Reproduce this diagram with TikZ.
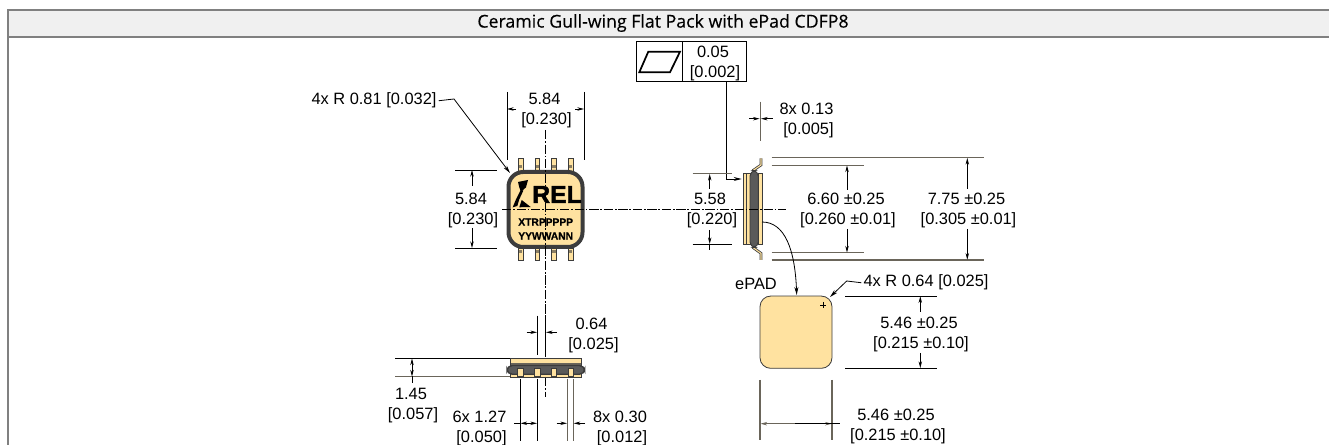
\documentclass[tikz,border=0pt]{standalone}
\usepackage{fontspec}
\setmainfont{Liberation Sans}
\newfontfamily\titlefont[FakeBold=0.25]{Open Sans}
\newfontfamily\logofont[FakeBold=2]{Liberation Sans Bold}
\newfontfamily\markfont[FakeBold=0.6]{Liberation Sans Bold}
\usetikzlibrary{arrows.meta}
\definecolor{frameG}{HTML}{808080}
\definecolor{headG}{HTML}{F0F0F0}
\definecolor{padY}{HTML}{FFE2A0}
\definecolor{bodyD}{HTML}{3C3C3C}
\definecolor{coreD}{HTML}{5A5A5A}
\definecolor{extO}{HTML}{6A655A}
\newcommand{\twol}[2]{#1\hspace*{3pt}\\{}#2}
\tikzset{
  x=0.75pt,y=-0.75pt,
  framel/.style={draw=frameG,line width=1.5pt},
  dimtext/.style={inner sep=0pt,align=center,yshift=-1.6pt,font=\fontsize{12.3}{15}\selectfont},
  oneline/.style={inner sep=0pt,yshift=-1.3pt,font=\fontsize{12.3}{15}\selectfont},
  ext/.style={draw=black,line width=0.6pt},
  exto/.style={draw=extO,line width=1pt},
  leader/.style={draw=black,line width=0.6pt,-{Stealth[length=6pt,width=3pt]}},
  dimarr/.style={draw=black,line width=0.6pt,-{Stealth[length=5pt,width=2.6pt]}},
  center line/.style={draw=black,line width=0.35pt,dash pattern=on 7pt off 1.3pt on 1.3pt off 1.3pt},
  lead/.style={fill=padY,draw=bodyD,line width=0.5pt},
  strip/.style={fill=padY,draw=bodyD,line width=0.5pt},
}
\begin{document}
\begin{tikzpicture}
\useasboundingbox (0,0) rectangle (1329,445);
% frame
\fill[white] (0,0) rectangle (1329,445);
\fill[headG] (8,10) rectangle (1329,37);
\draw[framel] (1329,10) -- (8.3,10) -- (8.3,445);
\draw[framel] (8,37) -- (1329,37);
\node[inner sep=0pt,font=\titlefont\fontsize{13.3}{15}\selectfont] (title) at (663,23) {Ceramic Gull-wing Flat Pack with ePad CDFP8};

% ===== top view
\foreach \x in {520.7,537.3,554,570.7}{
  \draw[lead] (\x-2.2,158.5) rectangle (\x+2.2,171);
  \fill[bodyD!60!padY] (\x-1.6,165) rectangle (\x+1.6,168);
  \draw[lead] (\x-2.2,248) rectangle (\x+2.2,260.5);
  \fill[bodyD!60!padY] (\x-1.6,250) rectangle (\x+1.6,253);
}
\draw[fill=padY,draw=bodyD,line width=3pt,rounded corners=11pt] (508.5,172) rectangle (582.5,247);
\node[inner sep=0pt,font=\logofont\fontsize{18.5}{20}\selectfont] (logo) at (557,194.5) {REL};
\node[inner sep=0pt,font=\markfont\fontsize{7.7}{9}\selectfont] (mark1) at (545.7,222) {XTRPPPPP};
\node[inner sep=0pt,font=\markfont\fontsize{7.7}{9}\selectfont] (mark2) at (545.7,236) {YYWWANN};
\fill[black] (518,182) -- (528,180) -- (526,187.3) -- (521,192) -- (519.3,187.3) -- cycle;
\fill[black] (523.3,190.7) -- (519.3,199.3) -- (517.3,206) -- (512.7,207.3) -- (516,199.3) -- (520.7,190) -- cycle;
\fill[black] (521.7,200) -- (530.7,207) -- (519.3,207.3) -- cycle;

% 4x R 0.81
\node[oneline] (r81) at (374,99) {4x R 0.81 [0.032]};
\coordinate (r81tip) at (510,173);
\draw[leader] (r81.east) ++(2,0) -- (454,99) -- (r81tip);
% 5.84 horizontal
\node[dimtext] (w584) at (546.5,108) {\twol{5.84}{[0.230]}};
\draw[ext] (507,92) -- (507,160);
\draw[ext] (584,92) -- (584,160);
\draw[dimarr] (516,109) -- (507,109);
\draw[dimarr] (575,109) -- (584,109);
% 5.84 vertical
\node[dimtext] (h584) at (473,208) {\twol{5.84}{[0.230]}};
\draw[ext] (455,170) -- (497,170);
\draw[ext] (455,248) -- (497,248);
\draw[dimarr] (472,186) -- (472,170);
\draw[dimarr] (472,228) -- (472,248);

% ===== tolerance box
\node[draw=black,line width=0.6pt,minimum width=35pt,minimum height=30pt,inner sep=0pt] (tolsym) at (659.3,61.7) {};
\node[draw=black,line width=0.6pt,minimum width=48pt,minimum height=30pt,inner sep=0pt] (tolval) at (714.7,61.7) {};
\node[dimtext] (toltext) at (715,61.2) {\twol{0.05}{[0.002]}};
\draw[black,line width=1.3pt,line join=miter] (639.3,72.3) -- (648.3,51.7) -- (680,51.7) -- (670,72.3) -- cycle;
\coordinate (tolbend) at (726.7,179);
\coordinate (toltip) at (741.7,179);
\draw[leader] (tolbend |- tolval.south) -- (tolbend) -- (toltip);

% 8x 0.13
\node[dimtext] (t013) at (808.5,118) {\twol{8x 0.13}{[0.005]}};
\draw[exto] (760.3,101.7) -- (760.3,140.7);
\draw[dimarr] (749,118.7) -- (759.6,118.7);
\draw[dimarr] (772.7,118.7) -- (761,118.7);

% ===== side view
\foreach \s/\a/\b/\c in {0/170.7/165/158.3,1/247.3/253.3/260}{
  \draw[bodyD,line width=2pt,line join=miter] (752.7,\a) -- (761,\b) -- (761,\c);
  \draw[padY,line width=0.8pt,line join=miter] (752.7,\a) -- (761,\b) -- (761,\c);
}
\draw[strip] (743.3,173.3) rectangle (746.8,244.3);
\draw[strip] (746.8,173.3) rectangle (750,244.3);
\draw[strip] (758.3,173.3) rectangle (762,244.3);
\draw[fill=coreD,draw=bodyD,line width=0.7pt,rounded corners=4pt] (750,170.7) rectangle (758.3,247.3);

% centre lines
\draw[center line] (545.7,130) -- (545.7,397);
\draw[center line] (502,209) -- (786,209);

% 5.58
\node[dimtext] (h558) at (712,208) {\twol{5.58}{[0.220]}};
\draw[exto] (692.7,173.7) -- (731.7,173.7);
\draw[ext] (692.7,244) -- (731.7,244);
\draw[dimarr] (709.7,189) -- (709.7,174);
\draw[dimarr] (709.7,230) -- (709.7,244);
\draw[ext] (709.7,244) -- (709.7,250.5);

% 6.60 / 7.75
\draw[exto] (771.7,157.7) -- (984.3,157.7);
\draw[exto] (771.7,165.3) -- (863.7,165.3);
\draw[exto] (771.7,252.7) -- (863.7,252.7);
\draw[exto] (771.7,260) -- (984.3,260);
\node[dimtext] (h660) at (848,208) {\twol{6.60 ±0.25}{[0.260 ±0.01]}};
\node[dimtext] (h775) at (968.5,208) {\twol{7.75 ±0.25}{[0.305 ±0.01]}};
\draw[dimarr] (847,190) -- (847,165.5);
\draw[dimarr] (847,229) -- (847,252.5);
\draw[dimarr] (967.3,189) -- (967.3,158);
\draw[dimarr] (967.3,229) -- (967.3,259.7);

% ===== ePAD
\node[oneline] (epadlab) at (756,282) {ePAD};
\node[draw=bodyD,fill=padY,line width=0.6pt,rounded corners=8pt,minimum width=54pt,minimum height=54.2pt,inner sep=0pt] (epad) at (796,332.2) {};
\draw[black,line width=0.45pt] (820.3,305) -- (826.3,305) (823.3,302) -- (823.3,308);
\coordinate (curvestart) at (762,222);
\draw[leader] (curvestart) .. controls (785,222) and (795,250) .. (796.7,295);
\node[oneline] (r64) at (926,281) {4x R 0.64 [0.025]};
\draw[leader] (r64.west) ++(-2,0) -- (846.7,281) -- (830,297);
% 5.46 vertical
\draw[ext] (845,296) -- (937.3,296);
\draw[ext] (845,368.3) -- (937.3,368.3);
\node[dimtext] (h546) at (921,332) {\twol{5.46 ±0.25}{[0.215 ±0.10]}};
\draw[dimarr] (920.3,311.7) -- (920.3,296.3);
\draw[dimarr] (920.3,353) -- (920.3,368);
% 5.46 horizontal
\draw[exto] (760,380) -- (760,440);
\draw[exto] (832,380) -- (832,440);
\node[dimtext] (w546) at (898,424.5) {\twol{5.46 ±0.25}{[0.215 ±0.10]}};
\draw[dimarr,draw=extO] (796,423.7) -- (760.5,423.7);
\draw[dimarr,draw=extO] (796,423.7) -- (831.7,423.7);
\draw[ext] (795,423.7) -- (840,423.7);

% ===== bottom view
\draw[strip] (510,358.5) rectangle (581.7,365.5);
\fill[extO] (510.5,362.7) rectangle (581.2,365);
\draw[strip] (510,373) rectangle (581.7,377.3);
\draw[fill=coreD,draw=bodyD,line width=1pt,rounded corners=4pt] (507,365.5) rectangle (584.7,374.3);
\foreach \x in {520.3,537.3,554,570.7}{
  \draw[lead] (\x-2.6,368.3) rectangle (\x+2.6,376.7);
}
% 1.45
\draw[ext] (395,358.3) -- (510,358.3);
\draw[exto] (395,376.7) -- (510,376.7);
\draw[dimarr] (412,368) -- (412,358.5);
\draw[dimarr] (412,368) -- (412,376.5);
\draw[ext] (412,376.5) -- (412,382.7);
\node[dimtext] (h145) at (413,403.5) {\twol{1.45}{[0.057]}};
% 0.64
\node[dimtext] (w064) at (593.5,333) {\twol{0.64}{[0.025]}};
\draw[ext] (537.3,315.7) -- (537.3,355);
\draw[ext] (545.7,315.7) -- (545.7,355);
\draw[dimarr] (526.7,332.3) -- (537,332.3);
\draw[dimarr] (556.7,332.3) -- (546,332.3);
% 6x 1.27
\node[dimtext] (w127) at (481.5,426.7) {\twol{6x 1.27}{[0.050]}};
\draw[ext] (520.3,379) -- (520.3,440.7);
\draw[ext] (537.3,379) -- (537.3,440.7);
\draw[ext] (514,423.3) -- (520.3,423.3);
\draw[dimarr] (529,423.3) -- (520.5,423.3);
\draw[dimarr] (529,423.3) -- (537,423.3);
% 8x 0.30
\node[dimtext] (w030) at (622,426.7) {\twol{8x 0.30}{[0.012]}};
\draw[exto] (567.3,379) -- (567.3,440.7);
\draw[exto] (573.3,379) -- (573.3,440.7);
\draw[dimarr] (556.7,423.3) -- (567,423.3);
\draw[dimarr] (585,423.3) -- (573.7,423.3);
\end{tikzpicture}
\end{document}
